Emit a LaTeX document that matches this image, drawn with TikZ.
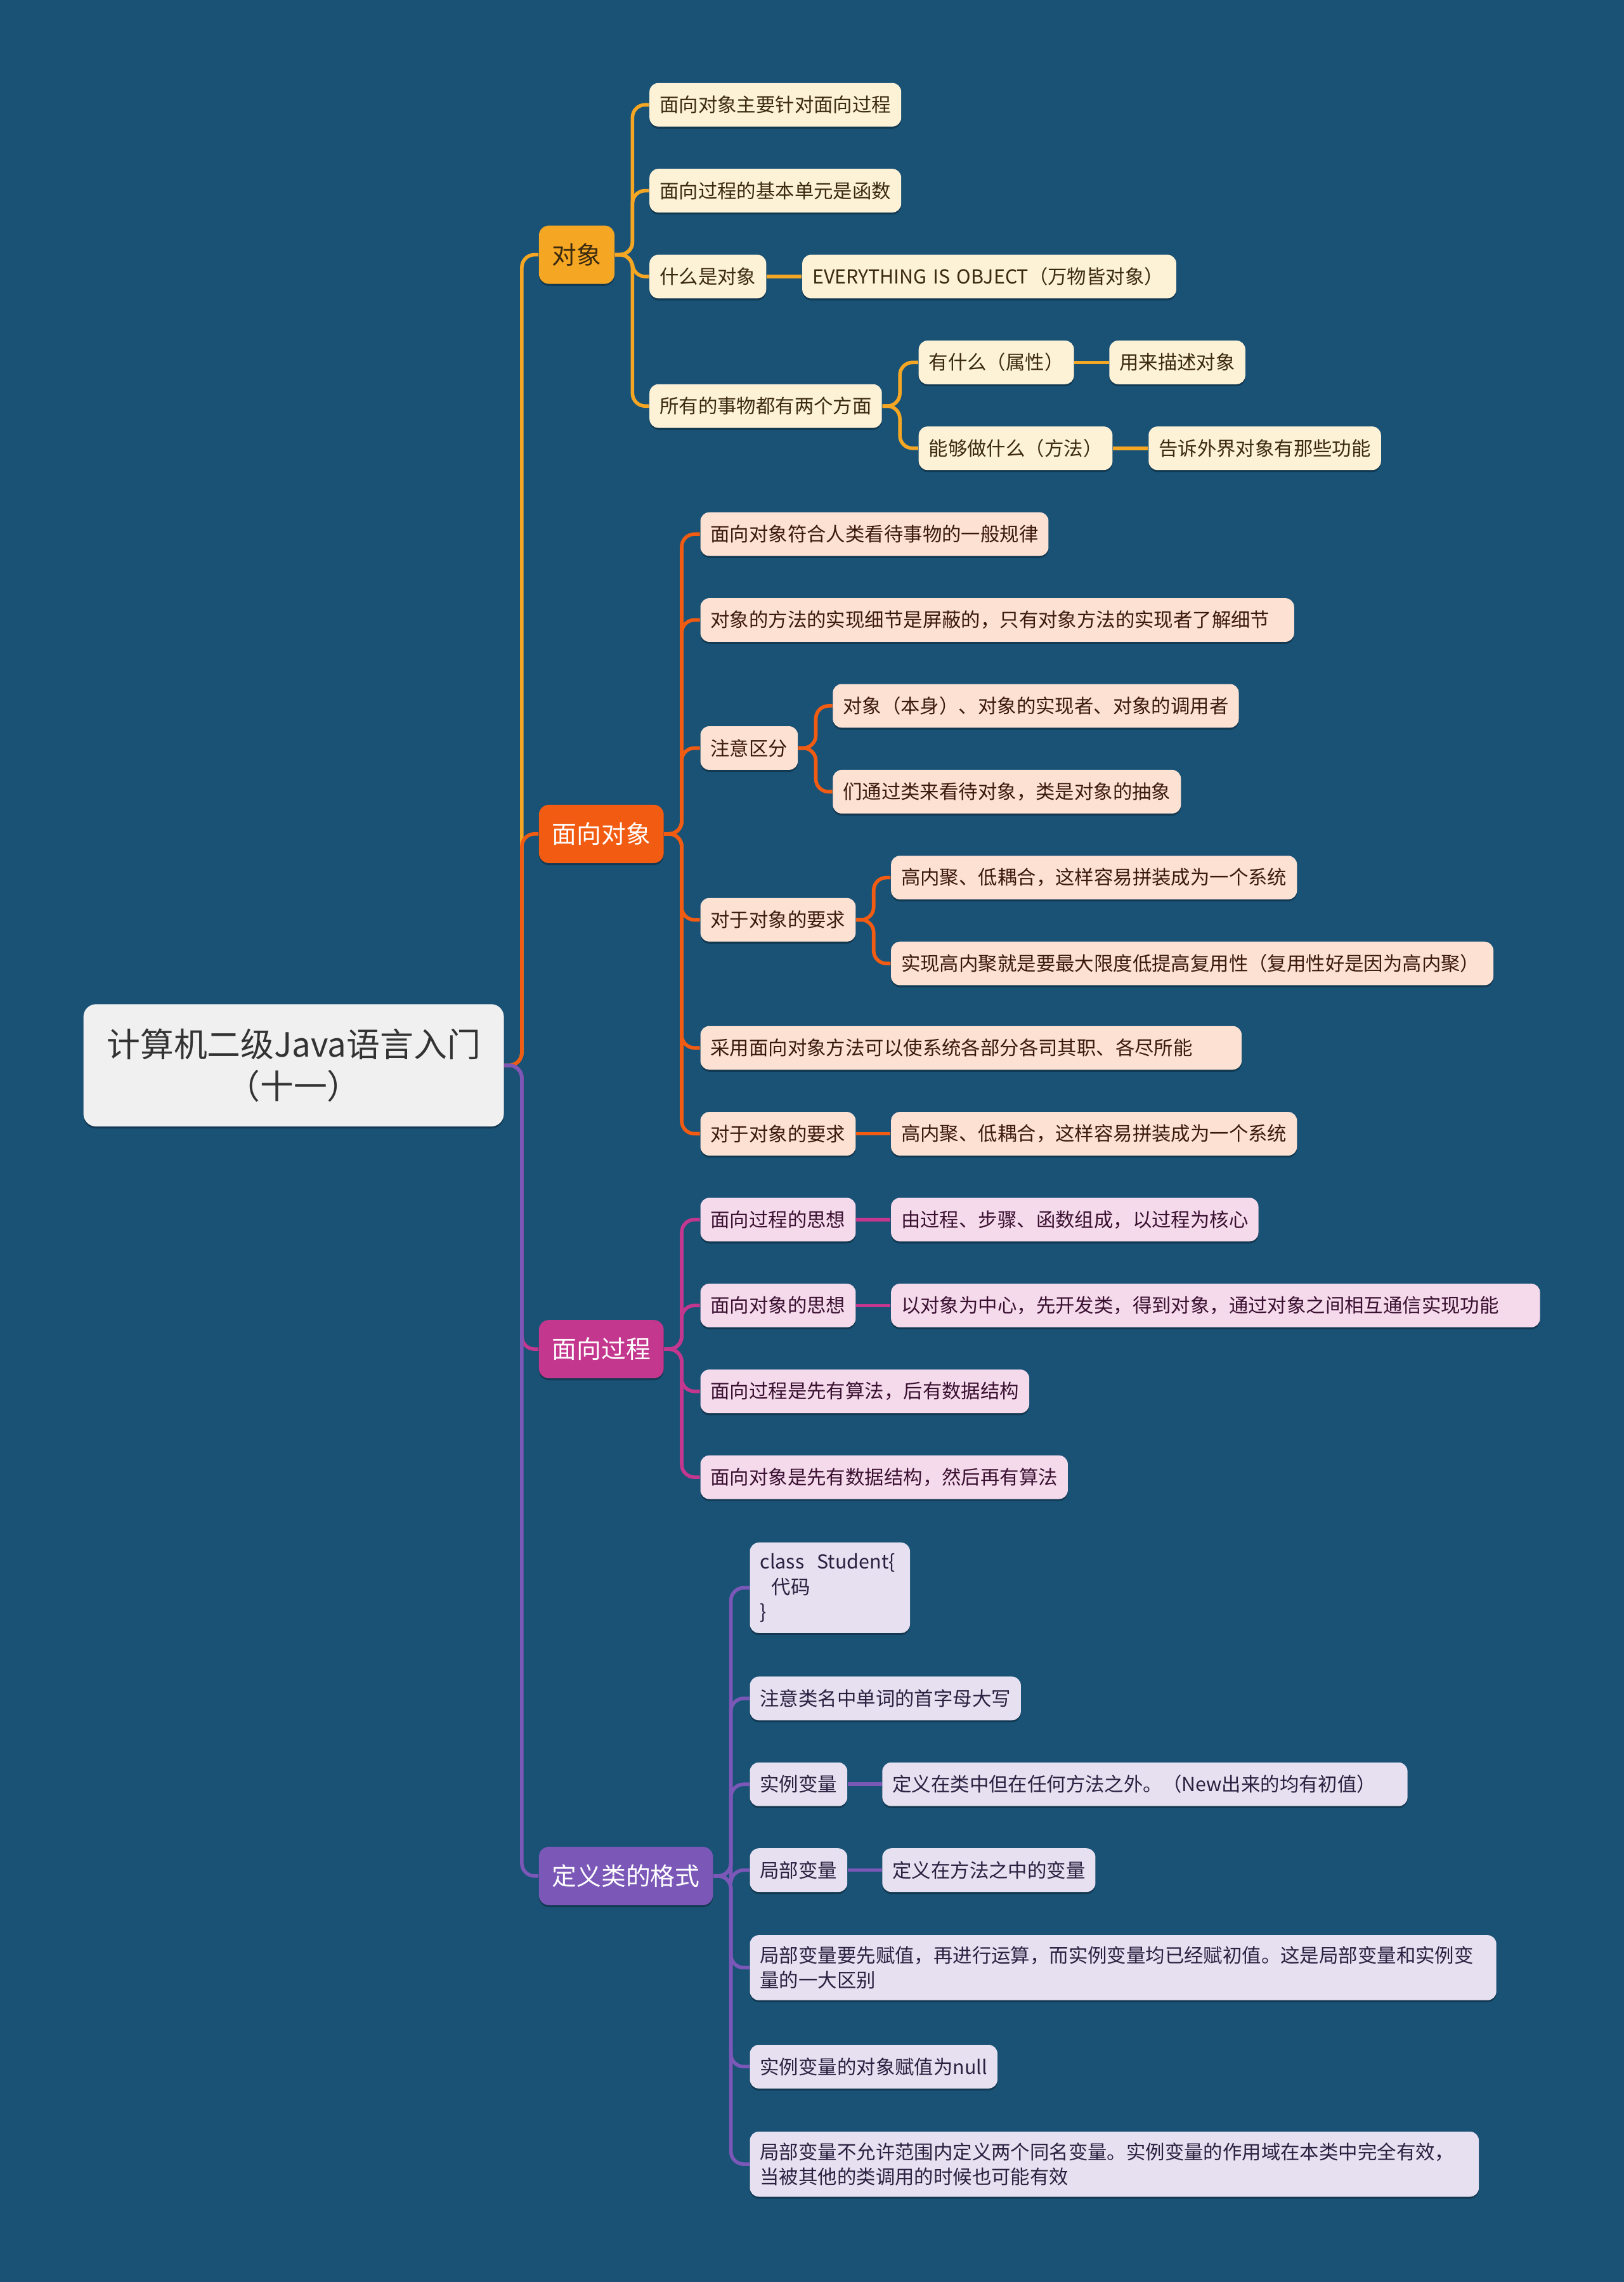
\documentclass[tikz,border=0pt]{standalone}
\usepackage{fontspec}
\setmainfont{Noto Sans CJK SC}
\usetikzlibrary{shadows}
\definecolor{bg}{HTML}{1A5276}
\definecolor{rootfill}{HTML}{F0F0F0}
\definecolor{roottext}{HTML}{333333}
\definecolor{ycol}{HTML}{F5A623}
\definecolor{ylight}{HTML}{FDF1D6}
\definecolor{ytext}{HTML}{3A2A10}
\definecolor{ocol}{HTML}{F25C12}
\definecolor{olight}{HTML}{FDE1D2}
\definecolor{otext}{HTML}{3A1A0C}
\definecolor{mcol}{HTML}{C4378F}
\definecolor{mlight}{HTML}{F5DAEC}
\definecolor{mtext}{HTML}{3A1030}
\definecolor{pcol}{HTML}{7B58B8}
\definecolor{plight}{HTML}{E6E0F0}
\definecolor{ptext}{HTML}{2A2040}
\begin{document}
\begin{tikzpicture}[x=0.5735pt,y=-0.5735pt,
  shd/.style={drop shadow={shadow xshift=0pt,shadow yshift=-0.8pt,opacity=0.3,fill=black}},
  leaf/.style={shd,rounded corners=3.5pt,inner xsep=4pt,inner ysep=4.4pt,minimum height=17.2pt,anchor=west,
    font=\fontsize{7.6}{9.75}\selectfont,align=left},
  tw/.style={text width=#1},
  yleaf/.style={leaf,fill=ylight,text=ytext},
  oleaf/.style={leaf,fill=olight,text=otext},
  mleaf/.style={leaf,fill=mlight,text=mtext},
  pleaf/.style={leaf,fill=plight,text=ptext},
  lone/.style={shd,rounded corners=4pt,inner xsep=5.2pt,inner ysep=3pt,minimum height=23pt,anchor=west,
    font=\fontsize{9.7}{12}\selectfont},
  conn/.style={line width=1.4pt,rounded corners=5pt}]
\fill[bg] (0,0) rectangle (1116,1568);
\useasboundingbox (0,0) rectangle (1116,1568);

% root
\node[shd,fill=rootfill,text=roottext,rounded corners=5pt,anchor=west,minimum width=165.7pt,minimum height=48.2pt,
  align=center,font=\fontsize{13.2}{16.6}\selectfont] (root) at (57,732) {计算机二级Java语言入门\\（十一）};

% level 1
\node[lone,fill=ycol,text=ytext] (dx) at (370,175) {对象};
\node[lone,fill=ocol,text=white] (mx) at (370,573) {面向对象};
\node[lone,fill=mcol,text=white] (gc) at (370,927) {面向过程};
\node[lone,fill=pcol,text=white] (dy) at (370,1289) {定义类的格式};

% trunk
\draw[conn,ycol] (root.east) -- ++(12,0) |- (dx.west);
\draw[conn,ocol] (root.east) -- ++(12,0) |- (mx.west);
\draw[conn,mcol] (root.east) -- ++(12,0) |- (gc.west);
\draw[conn,pcol] (root.east) -- ++(12,0) |- (dy.west);

% 对象
\node[yleaf] (a1) at (446,72) {面向对象主要针对面向过程};
\node[yleaf] (a2) at (446,131) {面向过程的基本单元是函数};
\node[yleaf] (a3) at (446,190) {什么是对象};
\node[yleaf,tw=139.4pt] (a31) at (551,190) {EVERYTHING IS OBJECT（万物皆对象）};
\node[yleaf] (a4) at (446,279) {所有的事物都有两个方面};
\node[yleaf] (a41) at (631,249) {有什么（属性）};
\node[yleaf] (a411) at (762,249) {用来描述对象};
\node[yleaf] (a42) at (631,308) {能够做什么（方法）};
\node[yleaf] (a421) at (789,308) {告诉外界对象有那些功能};
\foreach \c in {a1,a2,a3,a4} \draw[conn,ycol] (dx.east) -- ++(12,0) |- (\c.west);
\draw[conn,ycol] (a3.east) -- (a31.west);
\foreach \c in {a41,a42} \draw[conn,ycol] (a4.east) -- ++(12,0) |- (\c.west);
\draw[conn,ycol] (a41.east) -- (a411.west);
\draw[conn,ycol] (a42.east) -- (a421.west);

% 面向对象
\node[oleaf] (b1) at (481,367) {面向对象符合人类看待事物的一般规律};
\node[oleaf,tw=226pt] (b2) at (481,426) {对象的方法的实现细节是屏蔽的，只有对象方法的实现者了解细节};
\node[oleaf] (b3) at (481,514) {注意区分};
\node[oleaf] (b31) at (572,485) {对象（本身）、对象的实现者、对象的调用者};
\node[oleaf] (b32) at (572,544) {们通过类来看待对象，类是对象的抽象};
\node[oleaf] (b4) at (481,632) {对于对象的要求};
\node[oleaf] (b41) at (612,603) {高内聚、低耦合，这样容易拼装成为一个系统};
\node[oleaf,tw=229.4pt] (b42) at (612,662) {实现高内聚就是要最大限度低提高复用性（复用性好是因为高内聚）};
\node[oleaf,tw=205.3pt] (b5) at (481,720) {采用面向对象方法可以使系统各部分各司其职、各尽所能};
\node[oleaf] (b6) at (481,779) {对于对象的要求};
\node[oleaf] (b61) at (612,779) {高内聚、低耦合，这样容易拼装成为一个系统};
\foreach \c in {b1,b2,b3,b4,b5,b6} \draw[conn,ocol] (mx.east) -- ++(12,0) |- (\c.west);
\foreach \c in {b31,b32} \draw[conn,ocol] (b3.east) -- ++(12,0) |- (\c.west);
\foreach \c in {b41,b42} \draw[conn,ocol] (b4.east) -- ++(12,0) |- (\c.west);
\draw[conn,ocol] (b6.east) -- (b61.west);

% 面向过程
\node[mleaf] (c1) at (481,838) {面向过程的思想};
\node[mleaf] (c11) at (612,838) {由过程、步骤、函数组成，以过程为核心};
\node[mleaf] (c2) at (481,897) {面向对象的思想};
\node[mleaf,tw=247.8pt] (c21) at (612,897) {以对象为中心，先开发类，得到对象，通过对象之间相互通信实现功能};
\node[mleaf] (c3) at (481,956) {面向过程是先有算法，后有数据结构};
\node[mleaf] (c4) at (481,1015) {面向对象是先有数据结构，然后再有算法};
\foreach \c in {c1,c2,c3,c4} \draw[conn,mcol] (gc.east) -- ++(12,0) |- (\c.west);
\draw[conn,mcol] (c1.east) -- (c11.west);
\draw[conn,mcol] (c2.east) -- (c21.west);

% 定义类的格式
\node[pleaf,tw=55.1pt] (d1) at (515,1091) {class\ \ Student\{\\\hspace*{0.6em}代码\\\}};
\node[pleaf] (d2) at (515,1167) {注意类名中单词的首字母大写};
\node[pleaf] (d3) at (515,1226) {实例变量};
\node[pleaf,tw=199pt] (d31) at (606,1226) {定义在类中但在任何方法之外。（New出来的均有初值）};
\node[pleaf] (d4) at (515,1285) {局部变量};
\node[pleaf] (d41) at (606,1285) {定义在方法之中的变量};
\node[pleaf,tw=286.2pt] (d5) at (515,1352) {局部变量要先赋值，再进行运算，而实例变量均已经赋初值。这是局部变量和实例变\\量的一大区别};
\node[pleaf] (d6) at (515,1420) {实例变量的对象赋值为null};
\node[pleaf,tw=279.3pt] (d7) at (515,1487) {局部变量不允许范围内定义两个同名变量。实例变量的作用域在本类中完全有效，\\当被其他的类调用的时候也可能有效};
\foreach \c in {d1,d2,d3,d4,d5,d6,d7} \draw[conn,pcol] (dy.east) -- ++(12,0) |- (\c.west);
\draw[conn,pcol] (d3.east) -- (d31.west);
\draw[conn,pcol] (d4.east) -- (d41.west);
\end{tikzpicture}
\end{document}
